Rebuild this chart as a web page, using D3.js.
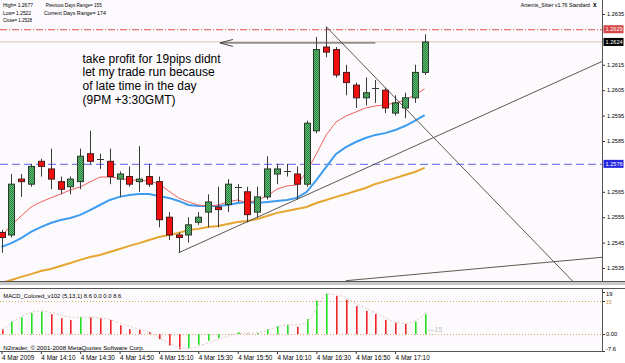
<!DOCTYPE html>
<html><head><meta charset="utf-8">
<script src="https://cdn.jsdelivr.net/npm/d3@7"></script>
<style>
html,body{margin:0;padding:0;background:#fff;}
svg{display:block;font-family:"Liberation Sans",Arial,sans-serif;}
</style></head><body>
<svg id="c" width="625" height="363"></svg>
<script>
// ---------- data ----------
const timeLabels = ["4 Mar 2009","4 Mar 14:10","4 Mar 14:30","4 Mar 14:50","4 Mar 15:10","4 Mar 15:30","4 Mar 15:50","4 Mar 16:10","4 Mar 16:30","4 Mar 16:50","4 Mar 17:10"];
const timeLabelBars = [0,4,8,12,16,20,24,28,32,36,40];

const open  = [1.2549,1.2548,1.2570,1.2568,1.2577,1.2574,1.2569,1.2567,1.2569,1.2580,1.2578,1.2577,1.2570,1.2571,1.2569,1.2571,1.2569,1.2555,1.2548,1.2548,1.2553,1.2557,1.2559,1.2560,1.2567,1.2565,1.2557,1.2563,1.2572,1.2573,1.2572,1.2568,1.2589,1.2622,1.2621,1.2612,1.2607,1.2602,1.2606,1.2605,1.2596,1.2598,1.2602,1.2612];
const high  = [1.2550,1.2572,1.2572,1.2576,1.2578,1.2582,1.2571,1.2571,1.2582,1.2589,1.2580,1.2582,1.2573,1.2575,1.2583,1.2576,1.2571,1.2557,1.2549,1.2555,1.2557,1.2564,1.2567,1.2570,1.2568,1.2567,1.2567,1.2579,1.2576,1.2576,1.2575,1.2593,1.2626,1.2630,1.2622,1.2615,1.2608,1.2610,1.2609,1.2606,1.2603,1.2604,1.2615,1.2627];
const low   = [1.2541,1.2547,1.2563,1.2567,1.2571,1.2566,1.2564,1.2564,1.2566,1.2576,1.2574,1.2568,1.2563,1.2567,1.2565,1.2567,1.2551,1.2546,1.2541,1.2545,1.2552,1.2551,1.2551,1.2557,1.2561,1.2553,1.2555,1.2562,1.2568,1.2571,1.2562,1.2567,1.2588,1.2618,1.2610,1.2603,1.2598,1.2599,1.2600,1.2596,1.2595,1.2594,1.2600,1.2611];
const close = [1.2547,1.2568,1.2569,1.2575,1.2575,1.2570,1.2566,1.2570,1.2579,1.2577,1.2578,1.2571,1.2572,1.2568,1.2570,1.2568,1.2554,1.2548,1.2547,1.2552,1.2555,1.2561,1.2558,1.2568,1.2567,1.2556,1.2563,1.2574,1.2574,1.2573,1.2568,1.2592,1.2621,1.2620,1.2611,1.2608,1.2602,1.2604,1.2606,1.2598,1.2600,1.2602,1.2612,1.2624];

const maFast = [1.25476,1.25519,1.25555,1.25590,1.25610,1.25626,1.25641,1.25657,1.25669,1.25689,1.25708,1.25708,1.25704,1.25696,1.25696,1.25692,1.25681,1.25653,1.25626,1.25610,1.25598,1.25594,1.25598,1.25610,1.25618,1.25606,1.25618,1.25633,1.25661,1.25673,1.25677,1.25728,1.25799,1.25874,1.25925,1.25948,1.25964,1.25980,1.25988,1.25992,1.26000,1.26011,1.26031,1.26055];
const maMid  = [1.25433,1.25448,1.25468,1.25492,1.25511,1.25527,1.25539,1.25547,1.25559,1.25578,1.25598,1.25618,1.25630,1.25637,1.25641,1.25641,1.25633,1.25626,1.25614,1.25598,1.25594,1.25594,1.25594,1.25598,1.25606,1.25610,1.25606,1.25610,1.25614,1.25618,1.25626,1.25649,1.25696,1.25748,1.25799,1.25826,1.25846,1.25862,1.25874,1.25881,1.25893,1.25909,1.25929,1.25952];
const maSlow = [1.25291,1.25303,1.25315,1.25326,1.25338,1.25346,1.25358,1.25370,1.25382,1.25393,1.25401,1.25413,1.25425,1.25437,1.25448,1.25460,1.25472,1.25480,1.25488,1.25500,1.25504,1.25511,1.25515,1.25523,1.25531,1.25535,1.25543,1.25555,1.25567,1.25574,1.25582,1.25590,1.25606,1.25618,1.25630,1.25641,1.25653,1.25665,1.25681,1.25692,1.25704,1.25716,1.25728,1.25744];

const macdHist   = [2.25,5.7,7.6,9.5,10.2,9.0,7.2,6.4,7.8,7.6,7.2,6.4,4.0,2.25,1.9,0.9,-2.25,-5.1,-6.8,-6.3,-4.8,-3.0,-1.8,0.1,0.9,0.2,0.5,2.25,3.6,4.3,3.3,6.8,15.1,18.2,17.2,15.5,12.7,10.5,9.1,6.4,5.2,4.6,5.7,9.0];
const macdSignal = [1.9,5.2,8.2,9.9,10.5,9.7,8.5,7.6,7.6,7.6,7.3,6.4,4.9,3.4,2.2,0.7,-1.8,-4.1,-6.0,-6.6,-5.3,-3.8,-2.3,-0.8,0.4,0.4,0.7,1.9,3.4,4.2,4.2,5.7,12.4,18.1,17.7,16.2,13.6,11.7,9.5,7.2,5.4,4.9,6.1,9.5];

const priceTicks = [1.2635,1.2615,1.2605,1.2595,1.2585,1.2565,1.2555,1.2545,1.2535];
const dayHighLevel = 1.2629, bidLevel = 1.2624, pivotLevel = 1.2576;
const macdLevel = 15;
const trendUp   = [[18,1.2541],[30,1.2562]];
const trendDown = [[33,1.2630],[38,1.2610]];
const trendLow  = [[35,1.25300],[61,1.25392]];
const arrowLine = [[38,1.2624],[22.2,1.2624]];
const noteLines = ["take profit for 19pips didnt","let my trade run because","of late time in the day","(9PM  +3:30GMT)"];
const headerLeft = ["High= 1.2677","Low= 1.2522","Close= 1.2528"];
const headerRight = ["Previous Days Range= 155","Current Days Range= 174"];

// ---------- scales ----------
const svg = d3.select("#c");
const W = 625, H = 363, PR = 602, MB = 281, MT = 289, MBOT = 351;
const x = d3.scaleLinear().domain([0,43]).range([1.5, 424.6]);
const y = d3.scaleLinear().domain([1.2535,1.2635]).range([268,14]);
const ym = d3.scaleLinear().domain([-7.6,19]).range([MBOT,292]);

const defs = svg.append("defs");
const pat = defs.append("pattern").attr("id","gp").attr("width",2).attr("height",2).attr("patternUnits","userSpaceOnUse");
pat.append("rect").attr("width",2).attr("height",2).attr("fill","#5cbd6c");
pat.append("rect").attr("width",1).attr("height",1).attr("fill","#2f8046");
pat.append("rect").attr("x",1).attr("y",1).attr("width",1).attr("height",1).attr("fill","#2f8046");
defs.append("clipPath").attr("id","mc").append("rect").attr("x",0).attr("y",0).attr("width",PR).attr("height",MB);
defs.append("clipPath").attr("id","dc").append("rect").attr("x",0).attr("y",MT).attr("width",PR).attr("height",MBOT-MT);

// backgrounds
svg.append("rect").attr("width",W).attr("height",H).attr("fill","#ffffff");
svg.append("rect").attr("x",0).attr("y",0).attr("width",PR).attr("height",MB).attr("fill","#fcfafc");
svg.append("rect").attr("x",0).attr("y",MT).attr("width",PR).attr("height",MBOT-MT).attr("fill","#fcfafc");

const main = svg.append("g").attr("clip-path","url(#mc)");

// horizontal levels
main.append("line").attr("x1",0).attr("x2",PR).attr("y1",y(dayHighLevel)+0.5).attr("y2",y(dayHighLevel)+0.5)
  .attr("stroke","#d84a4a").attr("stroke-dasharray","7,2,1,2");
main.append("line").attr("x1",0).attr("x2",PR).attr("y1",y(bidLevel)).attr("y2",y(bidLevel))
  .attr("stroke","#e2cdbf").attr("stroke-width",1.2);
main.append("line").attr("x1",0).attr("x2",PR).attr("y1",y(pivotLevel)+0.5).attr("y2",y(pivotLevel)+0.5)
  .attr("stroke","#7f7ff2").attr("stroke-width",1.3).attr("stroke-dasharray","8,4");

// moving averages
const lineGen = arr => d3.line().x((d,i)=>x(i)).y(d=>y(d))(arr);
main.append("path").attr("d",lineGen(maSlow)).attr("fill","none").attr("stroke","#e5a530").attr("stroke-width",2);
main.append("path").attr("d",lineGen(maMid)).attr("fill","none").attr("stroke","#3d9cf0").attr("stroke-width",2);
main.append("path").attr("d",lineGen(maFast)).attr("fill","none").attr("stroke","#f26060").attr("stroke-width",1);

// trendlines (rays extended to the right edge)
const xEnd = x.invert(PR+5);
function ray(a){
  const [b1,p1] = a[0], [b2,p2] = a[1];
  const s = (p2-p1)/(b2-b1);
  return [[x(b1), y(p1)],[x(xEnd), y(p1 + s*(xEnd-b1))]];
}
[trendUp, trendDown, trendLow].forEach(t=>{
  const r = ray(t);
  main.append("line").attr("x1",r[0][0]).attr("y1",r[0][1]).attr("x2",r[1][0]).attr("y2",r[1][1])
    .attr("stroke","#5a5a50").attr("stroke-width",1);
});

// candles
const cg = main.append("g");
open.forEach((o,i)=>{
  const c = close[i], up = c >= o;
  const cx = Math.round(x(i));
  cg.append("line").attr("x1",cx+0.5).attr("x2",cx+0.5).attr("y1",y(high[i])).attr("y2",y(low[i]))
    .attr("stroke","#3a3a3a").attr("stroke-width",1);
  const top = y(Math.max(o,c)), bot = y(Math.min(o,c));
  if (Math.abs(o-c) < 0.00005) {
    cg.append("line").attr("x1",cx-3).attr("x2",cx+4).attr("y1",Math.round(top)+0.5).attr("y2",Math.round(top)+0.5)
      .attr("stroke","#3a3a3a");
  } else {
    cg.append("rect").attr("x",cx-2.5).attr("y",top).attr("width",6).attr("height",Math.max(1,bot-top))
      .attr("fill", up ? "url(#gp)" : "#f01010").attr("stroke", up ? "#2a3a2a" : "#4a1a1a").attr("stroke-width",1);
  }
});

// arrow
const ax1 = x(arrowLine[0][0]), ax2 = x(arrowLine[1][0]), ay = y(arrowLine[0][1]) + 1;
main.append("line").attr("x1",ax1).attr("x2",ax2).attr("y1",ay).attr("y2",ay).attr("stroke","#4a4a4a");
main.append("path").attr("d",`M${ax2+13},${ay-3.5} L${ax2},${ay} L${ax2+13},${ay+3.5}`).attr("fill","none").attr("stroke","#4a4a4a");

// note text
svg.append("g").selectAll("text").data(noteLines).join("text")
  .attr("x",82.5).attr("y",(d,i)=>62.5+i*13.7).attr("font-size",12).attr("fill","#000").text(d=>d);

// header
svg.append("g").selectAll("text").data(headerLeft).join("text")
  .attr("x",3).attr("y",(d,i)=>6.8+i*7.8).attr("font-size",6.2).attr("fill","#000")
  .attr("textLength",(d,i)=>[30,28,29][i]).attr("lengthAdjust","spacingAndGlyphs").text(d=>d);
svg.append("g").selectAll("text").data(headerRight).join("text")
  .attr("x",(d,i)=>[45.7,44][i]).attr("y",(d,i)=>6.8+i*7.8).attr("font-size",6.2).attr("fill","#000")
  .attr("textLength",(d,i)=>[56,62][i]).attr("lengthAdjust","spacingAndGlyphs").text(d=>d);
svg.append("text").attr("x",590).attr("y",7).attr("text-anchor","end").attr("font-size",5.2).text("Artemis_Sitter v1.76 Standard");
svg.append("text").attr("x",593).attr("y",7).attr("font-size",6.5).attr("font-weight","bold").text("x");

// panel borders
svg.append("line").attr("x1",0).attr("x2",W).attr("y1",MB+0.5).attr("y2",MB+0.5).attr("stroke","#555");
svg.append("rect").attr("x",0).attr("y",MB+1).attr("width",W).attr("height",3).attr("fill","#c9c9c9");
svg.append("line").attr("x1",0).attr("x2",W).attr("y1",MT-0.5).attr("y2",MT-0.5).attr("stroke","#555");
svg.append("line").attr("x1",0).attr("x2",PR+0.5).attr("y1",MBOT+0.5).attr("y2",MBOT+0.5).attr("stroke","#555");
svg.append("line").attr("x1",PR+0.5).attr("x2",PR+0.5).attr("y1",0).attr("y2",MB).attr("stroke","#555");
svg.append("line").attr("x1",PR+0.5).attr("x2",PR+0.5).attr("y1",MT).attr("y2",MBOT+1).attr("stroke","#555");

// price axis
const pa = svg.append("g").attr("transform",`translate(${PR+1},0)`)
  .call(d3.axisRight(y).tickValues(priceTicks).tickFormat(d3.format(".4f")).tickSize(2).tickPadding(2));
pa.select(".domain").remove();
pa.selectAll("text").attr("font-size",5.6).attr("font-family","Liberation Sans, Arial, sans-serif").attr("fill","#000");
pa.selectAll("line").attr("stroke","#333");

// level labels
[[dayHighLevel,"#d64545"],[bidLevel,"#000000"],[pivotLevel,"#2525e0"]].forEach(([v,col])=>{
  const yy = y(v);
  svg.append("rect").attr("x",PR+1.5).attr("y",yy-4).attr("width",20).attr("height",8).attr("fill",col);
  svg.append("text").attr("x",PR+3.5).attr("y",yy+2).attr("font-size",5.6).attr("fill","#fff").text(d3.format(".4f")(v));
});

// time axis
const ta = svg.append("g").attr("transform",`translate(0,${MBOT+1})`)
  .call(d3.axisBottom(x).tickValues(timeLabelBars).tickFormat((d,i)=>timeLabels[i]).tickSize(2).tickPadding(2));
ta.select(".domain").remove();
ta.selectAll("text").attr("font-size",6.4).attr("text-anchor","start").attr("font-family","Liberation Sans, Arial, sans-serif").attr("dy","0.55em").attr("fill","#000");
ta.selectAll("line").attr("stroke","#333");

// MACD panel
const mg = svg.append("g").attr("clip-path","url(#dc)");
[macdLevel,0].forEach(v=>{
  mg.append("line").attr("x1",0).attr("x2",PR).attr("y1",Math.round(ym(v))+0.5).attr("y2",Math.round(ym(v))+0.5)
    .attr("stroke","#d9a766").attr("stroke-dasharray","1,2");
});
macdHist.forEach((v,i)=>{
  const upc = i===0 ? false : v > macdHist[i-1];
  const cx = Math.round(x(i));
  mg.append("rect").attr("x",cx).attr("width",1.6)
    .attr("y",Math.min(ym(v),ym(0))).attr("height",Math.abs(ym(v)-ym(0)))
    .attr("fill", upc ? "#22e022" : "#f02424");
});
mg.append("path").attr("d",d3.line().x((d,i)=>x(i)+1).y(d=>ym(d)).curve(d3.curveMonotoneX)(macdSignal))
  .attr("fill","none").attr("stroke","#e2c8c0").attr("stroke-width",1).attr("stroke-dasharray","2,2");

svg.append("text").attr("x",3.3).attr("y",298).attr("font-size",6.2).attr("textLength",118).attr("lengthAdjust","spacingAndGlyphs")
  .text("MACD_Colored_v102 (5,13,1) 8.6 0.0 0.0 8.6");
svg.append("text").attr("x",3.3).attr("y",349.5).attr("font-size",6.2).attr("textLength",141).attr("lengthAdjust","spacingAndGlyphs")
  .text("N2trader, © 2001-2008 MetaQuotes Software Corp.");
svg.append("text").attr("x",x(43)+3).attr("y",ym(2)+2).attr("font-size",7).attr("fill","#bdbdbd").text("—15");

// MACD axis
const macdAxisVals = [19, macdLevel, 0, -7.6];
const macdAxisTxt = ["19","15","0.00","-7.6"];
const macdAxisOff = [4,3.6,2,0];
const macdAxisCol = ["#000","#c98a30","#000","#000"];
macdAxisVals.forEach((v,i)=>{
  svg.append("line").attr("x1",PR+1).attr("x2",PR+3).attr("y1",Math.round(ym(v))+0.5).attr("y2",Math.round(ym(v))+0.5).attr("stroke","#333");
  svg.append("text").attr("x",PR+4).attr("y",ym(v)+macdAxisOff[i]).attr("font-size",i===1?5:5.8).attr("fill",macdAxisCol[i]).text(macdAxisTxt[i]);
});
</script>
</body></html>
